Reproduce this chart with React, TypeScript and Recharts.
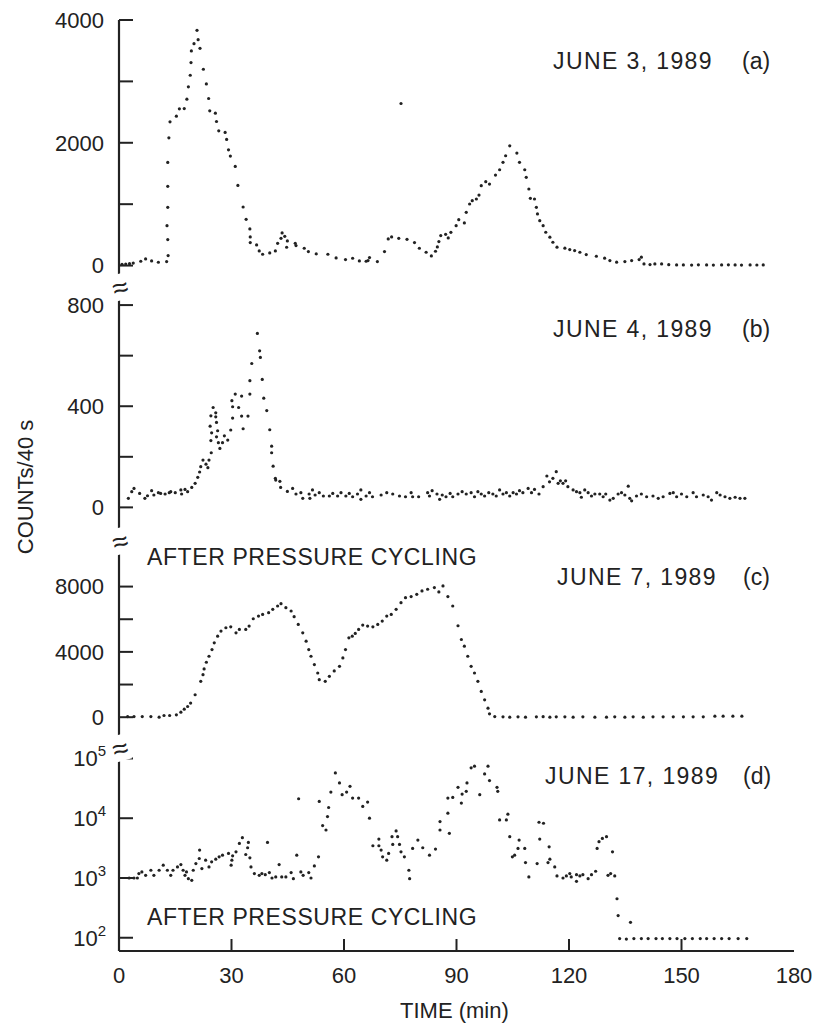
import { ScatterChart, Scatter, XAxis, YAxis } from 'recharts'

// time axis shared by all four runs (minutes)
const timeTicks = [0, 30, 60, 90, 120, 150, 180]

// (a) June 3, 1989
const june3Time = [
  0.8, 1.8, 2.8, 3.8, 5.8, 7.1, 8.7, 10.5, 12.7, 13.1,
  13.0, 12.8, 13.0, 13.0, 13.0, 13.3, 13.6, 15.3, 16.1, 17.4,
  18.1, 18.5, 19.0, 19.2, 19.3, 20.0, 20.8, 21.1, 21.6, 22.5,
  23.3, 23.9, 24.2, 25.7, 26.0, 26.6, 28.3, 28.7, 29.2, 29.7,
  31.0, 31.7, 33.1, 33.9, 34.9, 35.0, 35.0, 36.7, 37.4, 38.3,
  40.2, 41.7, 42.3, 43.2, 43.5, 44.2, 44.9, 44.7, 47.0, 47.2,
  49.4, 50.5, 52.6, 55.7, 57.9, 60.4, 62.3, 64.1, 65.9, 66.4,
  66.8, 68.9, 70.8, 71.8, 72.7, 74.6, 75.2, 76.8, 78.8, 80.1,
  81.9, 83.3, 84.4, 84.9, 85.3, 85.8, 87.1, 87.8, 88.5, 89.9,
  90.6, 92.1, 92.6, 93.5, 94.2, 95.3, 96.0, 96.6, 97.8, 98.8,
  100.4, 101.5, 102.4, 103.1, 104.2, 106.1, 106.8, 108.2, 108.6, 109.3,
  109.7, 110.8, 111.3, 111.6, 112.2, 113.1, 113.8, 114.9, 115.7, 116.8,
  118.9, 120.2, 121.5, 122.9, 124.6, 127.3, 129.5, 130.9, 132.7, 134.9,
  136.7, 138.7, 139.3, 140.0, 141.6, 142.9, 144.7, 146.6, 148.7, 150.5, 152.7,
  154.5, 156.7, 158.5, 160.7, 162.5, 164.3, 166.0, 168.3, 170.1, 171.8,
]
const june3Counts = [
  20, 25, 30, 40, 70, 108, 76, 54, 65, 163,
  423, 650, 948, 1290, 1680, 2081, 2341, 2434, 2553, 2558,
  2710, 2911, 3100, 3306, 3496, 3615, 3832, 3680, 3539, 3198,
  2959, 2721, 2520, 2482, 2347, 2195, 2168, 2054, 1886, 1783,
  1615, 1306, 954, 753, 596, 466, 374, 336, 238, 184,
  206, 238, 363, 444, 531, 477, 401, 298, 363, 325,
  282, 228, 190, 184, 125, 98, 119, 76, 70, 81,
  130, 65, 228, 434, 466, 444, 2640, 428, 374, 282,
  217, 157, 233, 304, 390, 488, 509, 450, 542, 650,
  748, 694, 868, 1003, 1057, 1084, 1149, 1301, 1366, 1328,
  1474, 1561, 1681, 1789, 1951, 1832, 1681, 1561, 1437, 1247,
  1096, 1084, 949, 841, 732, 650, 543, 462, 380, 300,
  283, 260, 244, 217, 179, 152, 120, 81, 55, 65,
  81, 98, 136, 27, 16, 27, 27, 15, 11, 10, 8,
  12, 10, 8, 10, 12, 10, 8, 10, 9, 10,
]

// (b) June 4, 1989
const june4Time = [
  2.5, 3.4, 4.0, 5.5, 6.9, 7.6, 8.7, 9.3, 10.5, 11.1,
  12.3, 13.4, 13.8, 15.0, 16.5, 16.7, 17.6, 18.3, 19.4, 20.3,
  21.0, 21.5, 21.8, 22.4, 23.2, 23.7, 24.0, 24.6, 24.5, 24.7,
  24.3, 24.5, 25.1, 25.8, 25.8, 26.0, 26.3, 26.0, 26.5, 26.9,
  27.6, 28.1, 29.0, 29.8, 30.3, 30.3, 30.1, 31.0, 31.9, 32.7,
  32.7, 33.1, 34.4, 34.9, 34.9, 35.4, 36.9, 37.5, 37.7, 38.2,
  38.6, 39.4, 40.2, 40.7, 40.7, 41.1, 41.7, 41.8, 42.9, 43.1,
  44.9, 46.3, 47.2, 48.5, 49.0, 50.7, 50.9, 51.6, 52.3, 53.4,
  54.5, 56.1, 57.0, 58.3, 59.2, 60.5, 61.4, 62.3, 63.6, 64.5,
  64.5, 65.9, 66.8, 67.6, 69.9, 71.4, 73.0, 74.8, 76.4, 77.9,
  78.3, 79.9, 82.3, 82.8, 83.5, 84.8, 85.5, 86.2, 87.2, 88.3,
  89.0, 90.4, 91.5, 92.6, 93.9, 94.8, 95.7, 96.6, 97.5, 98.6,
  99.7, 100.6, 101.5, 102.4, 103.3, 104.2, 105.1, 106.0, 106.8, 107.7,
  109.1, 110.0, 110.8, 112.0, 113.1, 114.1, 114.8, 115.7, 116.6, 117.1,
  117.7, 118.4, 119.1, 119.7, 121.1, 122.0, 122.9, 123.3, 124.2, 125.1,
  126.0, 126.9, 128.2, 129.1, 129.8, 130.9, 131.8, 133.1, 134.0, 134.9,
  135.8, 136.2, 136.7, 138.0, 139.3, 140.7, 142.4, 143.8, 145.1, 146.9,
  147.8, 148.7, 150.0, 151.4, 153.1, 154.0, 155.8, 157.1, 158.0, 159.4,
  160.3, 161.6, 162.9, 164.3, 165.6, 166.9,
]
const june4Counts = [
  36, 62, 75, 55, 36, 46, 66, 49, 58, 55,
  53, 58, 62, 58, 69, 53, 71, 62, 79, 95,
  119, 140, 161, 187, 171, 157, 187, 216, 264, 295,
  321, 362, 395, 374, 358, 336, 303, 279, 256, 233,
  256, 283, 266, 306, 353, 398, 422, 448, 395, 440,
  361, 311, 361, 448, 501, 569, 688, 619, 593, 506,
  432, 383, 307, 242, 216, 163, 115, 108, 103, 79,
  63, 75, 53, 58, 36, 53, 36, 69, 49, 58,
  45, 45, 55, 45, 58, 45, 55, 42, 53, 69,
  32, 45, 58, 42, 49, 58, 53, 45, 42, 58,
  42, 42, 58, 45, 66, 53, 32, 49, 42, 55,
  42, 53, 62, 53, 58, 42, 62, 53, 45, 58,
  53, 45, 69, 53, 58, 45, 58, 53, 66, 58,
  75, 58, 71, 53, 82, 124, 101, 115, 141, 95,
  105, 95, 105, 82, 69, 62, 58, 40, 69, 58,
  45, 53, 53, 42, 53, 29, 36, 53, 58, 49,
  84, 36, 26, 45, 53, 42, 45, 36, 42, 55,
  58, 42, 53, 42, 58, 42, 49, 42, 29, 58,
  49, 42, 36, 40, 36, 36,
]

// (c) June 7, 1989 (after pressure cycling)
const june7Time = [
  2.3, 4.0, 6.2, 8.5, 10.7, 12.0, 13.5, 15.3, 16.5, 17.4,
  18.3, 19.1, 20.3, 21.8, 22.4, 22.7, 23.3, 24.0, 24.8, 25.4,
  26.3, 27.2, 28.5, 29.8, 31.2, 32.1, 33.8, 34.7, 35.8, 37.2,
  38.3, 39.9, 41.0, 42.3, 43.2, 44.5, 45.9, 46.7, 47.8, 49.0,
  49.9, 50.6, 51.2, 52.1, 53.0, 53.4, 55.0, 56.1, 57.4, 58.8,
  59.7, 60.4, 61.3, 62.2, 63.0, 63.9, 65.0, 66.3, 67.7, 69.0,
  70.2, 71.4, 72.6, 73.9, 75.2, 76.4, 77.9, 79.4, 80.8, 82.3,
  84.1, 85.3, 86.4, 87.7, 89.0, 90.4, 91.3, 92.1, 93.0, 93.9,
  94.8, 95.7, 96.6, 97.5, 98.4, 98.8, 100.2, 102.4, 104.2, 106.4,
  108.4, 111.3, 113.1, 114.9, 116.6, 118.9, 121.1, 123.7, 126.9, 130.0,
  132.2, 134.9, 137.1, 139.8, 142.4, 145.1, 147.8, 150.5, 153.1, 155.8,
  158.9, 161.1, 163.7, 166.1,
]
const june7Counts = [
  41, 41, 41, 41, 0, 103, 103, 144, 308, 492,
  656, 862, 1374, 2195, 2605, 2954, 3364, 3733, 4144, 4554,
  4964, 5272, 5477, 5538, 5169, 5374, 5374, 5579, 6031, 6195,
  6297, 6400, 6605, 6810, 6954, 6708, 6503, 6154, 5682, 5169,
  4656, 4144, 3733, 3221, 2708, 2297, 2195, 2503, 2831, 3118,
  3631, 4144, 4862, 4964, 5128, 5374, 5641, 5579, 5538, 5682,
  5887, 6195, 6297, 6605, 7015, 7323, 7385, 7528, 7733, 7836,
  7938, 7672, 8041, 7385, 6810, 5600, 4759, 4349, 3733, 3118,
  2708, 2195, 1579, 1067, 554, 205, 41, 20, 0, 20,
  0, 20, 30, 0, 20, 20, 0, 20, 0, 0,
  20, 0, 20, 0, 20, 20, 20, 20, 20, 20,
  60, 60, 60, 60,
]

// (d) June 17, 1989 (after pressure cycling), log scale
const june17Time = [
  2.7, 4.0, 4.9, 5.3, 6.1, 7.1, 8.5, 9.3, 10.7, 11.8,
  12.9, 13.8, 14.4, 15.6, 16.5, 17.1, 17.6, 18.0, 18.5, 19.4,
  19.8, 20.5, 21.4, 21.5, 22.1, 23.1, 24.0, 24.7, 25.8, 26.7,
  27.6, 29.2, 29.9, 30.1, 30.3, 31.2, 32.1, 32.9, 33.8, 34.3,
  34.5, 34.9, 35.2, 36.1, 37.4, 38.1, 39.0, 39.6, 40.1, 40.8,
  41.8, 42.7, 43.4, 44.5, 45.9, 46.5, 47.4, 47.9, 48.5, 49.1,
  50.6, 51.2, 52.1, 53.2, 53.4, 54.3, 55.2, 55.6, 55.9, 56.5,
  57.7, 58.8, 59.5, 60.7, 61.6, 62.3, 63.9, 65.0, 66.3, 66.8,
  67.7, 69.3, 69.3, 69.9, 70.3, 71.4, 71.9, 72.8, 73.0, 73.9,
  74.3, 74.8, 75.2, 76.1, 77.3, 77.5, 78.3, 79.7, 81.0, 82.8,
  84.4, 85.6, 85.6, 87.7, 88.1, 87.7, 89.0, 90.4, 91.3, 91.5,
  92.6, 92.8, 93.9, 94.8, 96.2, 97.5, 98.4, 98.8, 100.8, 101.0,
  101.5, 103.3, 103.7, 104.2, 104.9, 105.5, 106.7, 106.4, 108.2, 108.4,
  109.3, 111.5, 112.0, 112.2, 113.2, 114.4, 114.7, 114.9, 116.2, 116.8,
  118.4, 119.3, 120.2, 120.6, 122.0, 122.0, 122.9, 123.7, 125.1, 126.0,
  127.1, 127.5, 128.0, 128.9, 130.0, 130.4, 131.1, 131.6, 132.2, 132.8,
  133.1, 136.4, 133.5, 135.3, 137.3, 139.3, 141.1, 143.2, 144.9, 146.9,
  148.8, 150.9, 152.9, 155.0, 156.7, 158.7, 160.7, 162.7, 165.1, 167.4,
]
const june17Counts = [
  1000, 1000, 1000, 1183, 1262, 1109, 1347, 1109, 1347, 1635,
  1347, 1109, 1347, 1532, 1678, 1347, 1109, 1262, 974, 913,
  1347, 1745, 2118, 2926, 1437, 1985, 1532, 1862, 2064, 2259,
  2410, 2572, 1635, 1985, 2349, 2743, 3791, 4721, 2473, 3205,
  3942, 2173, 1532, 1183, 1109, 1183, 1138, 3942, 1230, 1000,
  1040, 1678, 1040, 1040, 1230, 974, 2410, 21170, 1262, 1109,
  1230, 1000, 1593, 2259, 19090, 7520, 6355, 10660, 15130, 27430,
  57340, 38900, 24740, 27430, 34190, 21730, 21730, 15730, 18600, 10000,
  3460, 3460, 4483, 2926, 2259, 1985, 2572, 4909, 3646, 6119,
  4909, 3646, 2743, 2259, 1347, 974, 3121, 4314, 3205, 2410,
  3041, 8783, 6355, 12140, 5587, 21730, 22300, 32870, 17900, 25360,
  28140, 38900, 69620, 74260, 24740, 55180, 74260, 42600, 32870, 28140,
  9370, 9370, 11680, 4909, 2259, 2410, 4314, 3121, 3121, 1813,
  1040, 1745, 8570, 4483, 8240, 1813, 3327, 2064, 1532, 1081,
  1000, 1081, 1183, 1040, 879, 1138, 1081, 1138, 974, 1138,
  1295, 3121, 4044, 4600, 4909, 1109, 1183, 2743, 1081, 449,
  235, 181, 97, 95, 97, 97, 97, 97, 97, 97,
  97, 97, 97, 97, 97, 97, 97, 97, 97, 97,
]

const ink = '#222'
const font = '"Liberation Sans", Arial, Helvetica, sans-serif'

const toPoints = (t: number[], c: number[]) => t.map((v, i) => ({ t: v, c: c[i] }))

function LeftTick(props: any) {
  const { x, y, payload, labels, log } = props
  const v = payload.value
  const show = labels.includes(v)
  return (
    <g>
      <line x1={x} x2={x + 14} y1={y} y2={y} stroke={ink} strokeWidth={2} />
      {show &&
        (log ? (
          <text x={x - 13} y={y} dy="0.36em" textAnchor="end" fontSize={22} fill={ink} fontFamily={font}>
            10
            <tspan dy={-10} fontSize={15}>
              {Math.round(Math.log10(v))}
            </tspan>
          </text>
        ) : (
          <text x={x - 15} y={y} dy="0.36em" textAnchor="end" fontSize={22} fill={ink} fontFamily={font}>
            {v}
          </text>
        ))}
    </g>
  )
}

function BottomTick(props: any) {
  const { x, y, payload, showLabel } = props
  const v = payload.value
  const inner = v > 0 && v < 180
  return (
    <g>
      {inner && <line x1={x} x2={x} y1={y} y2={y - 12} stroke={ink} strokeWidth={2} />}
      {showLabel && (
        <text x={x} y={y + 24} dy="0.36em" textAnchor="middle" fontSize={22} fill={ink} fontFamily={font}>
          {v}
        </text>
      )}
    </g>
  )
}

const dot = (p: any) => <circle cx={p.cx} cy={p.cy} r={1.6} fill={ink} />

interface PanelProps {
  top: number
  plotTop: number
  plotHeight: number
  data: { t: number; c: number }[]
  domain: [number, number]
  ticks: number[]
  labels: number[]
  log?: boolean
  bottom?: boolean
}

function Panel({ top, plotTop, plotHeight, data, domain, ticks, labels, log, bottom }: PanelProps) {
  const axisH = bottom ? 90 : 0
  const spare = bottom ? 0 : 14
  const line = { stroke: ink, strokeWidth: 2.2 }
  return (
    <div style={{ position: 'absolute', left: 0, top }}>
      <ScatterChart
        width={820}
        height={plotTop + plotHeight + axisH + spare}
        margin={{ top: plotTop, right: 26, bottom: spare, left: 0 }}
      >
        <XAxis
          dataKey="t"
          type="number"
          domain={[0, 180]}
          ticks={timeTicks}
          interval={0}
          height={axisH}
          tickSize={0}
          tickMargin={0}
          tickLine={false}
          axisLine={line}
          tick={(p: any) => <BottomTick {...p} showLabel={bottom} />}
          allowDataOverflow
        />
        <XAxis xAxisId="top" orientation="top" type="number" domain={[0, 180]} height={0} tick={false} tickLine={false} axisLine={line} />
        <YAxis
          dataKey="c"
          type="number"
          scale={log ? 'log' : 'linear'}
          domain={domain}
          ticks={ticks}
          interval={0}
          width={119}
          tickSize={0}
          tickMargin={0}
          tickLine={false}
          axisLine={line}
          tick={(p: any) => <LeftTick {...p} labels={labels} log={log} />}
          allowDataOverflow
        />
        <YAxis yAxisId="r" orientation="right" type="number" domain={[0, 1]} width={0} tick={false} tickLine={false} axisLine={line} />
        <Scatter data={data} isAnimationActive={false} shape={dot} />
      </ScatterChart>
    </div>
  )
}

const text = (s: React.CSSProperties): React.CSSProperties => ({
  position: 'absolute',
  fontFamily: font,
  color: ink,
  fontSize: 23,
  whiteSpace: 'nowrap',
  lineHeight: 1,
  ...s,
})

function Break({ y }: { y: number }) {
  return (
    <div
      style={text({
        left: 111,
        top: y - 14,
        width: 18,
        height: 26,
        fontSize: 28,
        textAlign: 'center',
        background: '#fff',
        transform: 'rotate(-15deg)',
      })}
    >
      ≈
    </div>
  )
}

export default function App() {
  return (
    <div style={{ position: 'absolute', left: 0, top: 0, width: 820, height: 1028, background: '#fff' }}>
      <Panel
        top={0}
        plotTop={20}
        plotHeight={256}
        data={toPoints(june3Time, june3Counts)}
        domain={[-170, 4000]}
        ticks={[0, 1000, 2000, 3000, 4000]}
        labels={[0, 2000, 4000]}
      />
      <Panel
        top={276}
        plotTop={0}
        plotHeight={242}
        data={toPoints(june4Time, june4Counts)}
        domain={[-42, 915]}
        ticks={[0, 200, 400, 600, 800]}
        labels={[0, 400, 800]}
      />
      <Panel
        top={518}
        plotTop={0}
        plotHeight={220}
        data={toPoints(june7Time, june7Counts)}
        domain={[-1274, 12200]}
        ticks={[0, 2000, 4000, 6000, 8000]}
        labels={[0, 4000, 8000]}
      />
      <Panel
        top={738}
        plotTop={0}
        plotHeight={213}
        data={toPoints(june17Time, june17Counts)}
        domain={[60, 220000]}
        ticks={[100, 1000, 10000, 100000]}
        labels={[100, 1000, 10000, 100000]}
        log
        bottom
      />

      <Break y={288} />
      <Break y={542} />
      <Break y={749} />

      <div style={text({ left: 553, top: 50, letterSpacing: 1.4 })}>JUNE 3, 1989</div>
      <div style={text({ left: 742, top: 50 })}>(a)</div>
      <div style={text({ left: 553, top: 318, letterSpacing: 1.4 })}>JUNE 4, 1989</div>
      <div style={text({ left: 742, top: 318 })}>(b)</div>
      <div style={text({ left: 147, top: 546, letterSpacing: 0.6 })}>AFTER PRESSURE CYCLING</div>
      <div style={text({ left: 557, top: 566, letterSpacing: 1.4 })}>JUNE 7, 1989</div>
      <div style={text({ left: 743, top: 566 })}>(c)</div>
      <div style={text({ left: 545, top: 765, letterSpacing: 1.4 })}>JUNE 17, 1989</div>
      <div style={text({ left: 743, top: 765 })}>(d)</div>
      <div style={text({ left: 147, top: 906, letterSpacing: 0.6 })}>AFTER PRESSURE CYCLING</div>

      <div style={text({ left: 400, top: 1000, fontSize: 22 })}>TIME (min)</div>
      <div
        style={text({
          left: 26,
          top: 487,
          fontSize: 22,
          transform: 'translate(-50%, -50%) rotate(-90deg)',
        })}
      >
        COUNTs/40 s
      </div>
    </div>
  )
}
